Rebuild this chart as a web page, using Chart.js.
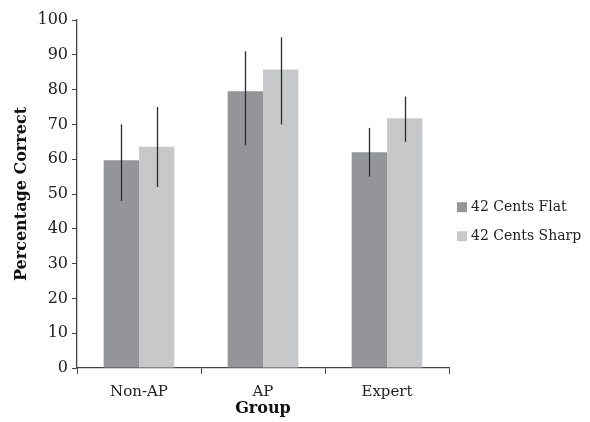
<!DOCTYPE html>
<html>
<head>
<meta charset="utf-8">
<script src="https://cdn.jsdelivr.net/npm/chart.js@4"></script>
<style>
  html, body { margin: 0; padding: 0; background: #fff; }
  #wrap { width: 590px; height: 422px; }
</style>
</head>
<body>
<div id="wrap"><canvas id="bar-chart"></canvas></div>
<script>
const groups = ['Non-AP', 'AP', 'Expert'];
const flatValues = [59.7, 79.5, 62.0];
const sharpValues = [63.6, 85.8, 71.8];
const flatLow = [48, 64, 55];
const flatHigh = [70, 91, 69];
const sharpLow = [52, 70, 65];
const sharpHigh = [75, 95, 78];
const yTicks = [0, 10, 20, 30, 40, 50, 60, 70, 80, 90, 100];

const serif = "'DejaVu Serif', 'Liberation Serif', serif";

// vertical error lines drawn through the chart's own scales
const errorBars = {
  id: 'errorBars',
  afterDatasetsDraw(chart) {
    const ctx = chart.ctx;
    const y = chart.scales.y;
    const ranges = [[flatLow, flatHigh], [sharpLow, sharpHigh]];
    ctx.save();
    ctx.strokeStyle = '#2b2b2b';
    ctx.lineWidth = 1.3;
    ranges.forEach((r, di) => {
      chart.getDatasetMeta(di).data.forEach((bar, i) => {
        ctx.beginPath();
        ctx.moveTo(Math.round(bar.x) + 0.5, y.getPixelForValue(r[0][i]));
        ctx.lineTo(Math.round(bar.x) + 0.5, y.getPixelForValue(r[1][i]));
        ctx.stroke();
      });
    });
    ctx.restore();
  }
};

// simple legend to the right of the plot, like the original
const sideLegend = {
  id: 'sideLegend',
  afterDraw(chart) {
    const ctx = chart.ctx;
    const area = chart.chartArea;
    const x = area.right + 8;
    let y = area.top + (area.bottom - area.top) * 0.538;
    ctx.save();
    ctx.font = '14px ' + serif;
    ctx.textBaseline = 'middle';
    chart.data.datasets.forEach(ds => {
      ctx.fillStyle = ds.backgroundColor;
      ctx.fillRect(x, y - 5, 10, 10);
      ctx.fillStyle = '#222';
      ctx.fillText(ds.label, x + 14, y);
      y += 29;
    });
    ctx.restore();
  }
};

new Chart(document.getElementById('bar-chart'), {
  type: 'bar',
  data: {
    labels: groups,
    datasets: [
      { label: '42 Cents Flat', data: flatValues, backgroundColor: '#939598' },
      { label: '42 Cents Sharp', data: sharpValues, backgroundColor: '#c7c8ca' }
    ]
  },
  options: {
    responsive: true,
    maintainAspectRatio: false,
    animation: false,
    layout: { padding: { top: 20, right: 141, left: 8, bottom: 0 } },
    datasets: { bar: { categoryPercentage: 0.57, barPercentage: 1.0 } },
    plugins: {
      legend: { display: false },
      tooltip: { enabled: false }
    },
    scales: {
      x: {
        grid: { display: true, drawOnChartArea: false, offset: true, color: '#444', tickLength: 6 },
        border: { color: '#444', width: 1.3 },
        ticks: { font: { family: serif, size: 15 }, color: '#222', padding: 9 },
        title: { display: true, text: 'Group', font: { family: serif, size: 16, weight: 'bold' }, color: '#111', padding: { top: 1 } },
        afterFit(scale) { scale.height = 54; }
      },
      y: {
        min: 0,
        max: 100,
        afterBuildTicks(scale) { scale.ticks = yTicks.map(v => ({ value: v })); },
        grid: { display: true, drawOnChartArea: false, color: '#444', tickLength: 5 },
        border: { color: '#444', width: 1.3 },
        ticks: { font: { family: serif, size: 16 }, color: '#222', padding: 4 },
        title: { display: true, text: 'Percentage Correct', font: { family: serif, size: 16, weight: 'bold' }, color: '#111' },
        afterFit(scale) { scale.width = 69; }
      }
    }
  },
  plugins: [errorBars, sideLegend]
});
</script>
</body>
</html>
